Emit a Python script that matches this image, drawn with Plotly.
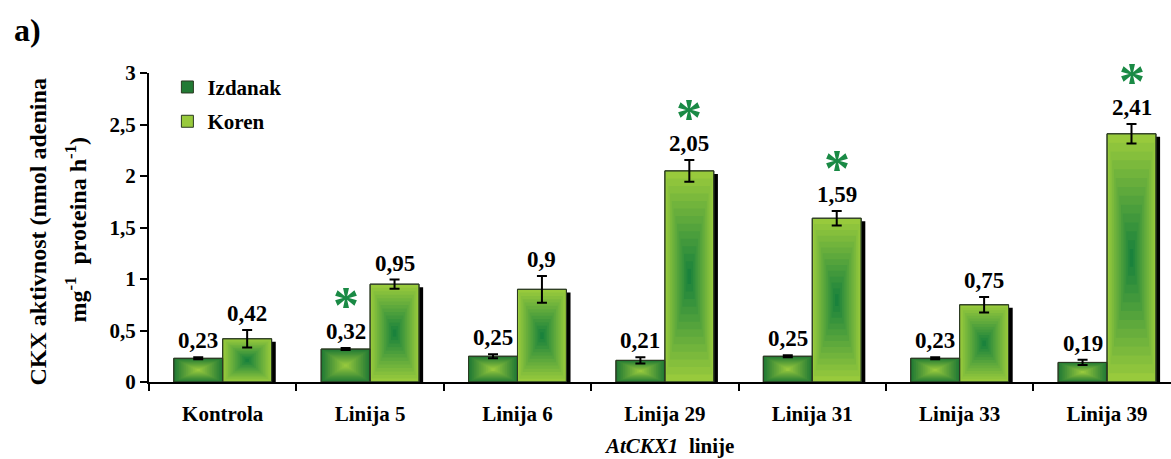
import plotly.graph_objects as go

# Data
categories = ["Kontrola", "Linija 5", "Linija 6", "Linija 29", "Linija 31", "Linija 33", "Linija 39"]
izdanak = [0.23, 0.32, 0.25, 0.21, 0.25, 0.23, 0.19]
izdanak_err = [0.01, 0.01, 0.02, 0.03, 0.01, 0.01, 0.025]
koren = [0.42, 0.95, 0.90, 2.05, 1.59, 0.75, 2.41]
koren_err = [0.085, 0.045, 0.13, 0.105, 0.07, 0.075, 0.095]
izdanak_sig = [False, True, False, False, False, False, False]
koren_sig = [False, False, False, True, True, False, True]
y_ticks = [0, 0.5, 1, 1.5, 2, 2.5, 3]

FONT = "Liberation Serif, Times New Roman, serif"
BAR_W = 0.332
N_LAYERS = 14


def lerp(c1, c2, t):
    return "rgb({},{},{})".format(*[round(a + (b - a) * t) for a, b in zip(c1, c2)])


def label(v):
    s = ("%.2f" % v).rstrip("0").rstrip(".")
    return s.replace(".", ",")


def bold_font(size, color="black"):
    return dict(family=FONT, size=size, color=color, weight="bold")


fig = go.Figure()

# drop shadow to the right of the Koren bars
fig.add_trace(go.Bar(
    x=categories, y=koren, base=[-0.03] * len(koren),
    offset=0.028, width=BAR_W,
    marker=dict(color="black", line=dict(width=0)),
    showlegend=False, hoverinfo="skip",
))


def gradient_bars(name, values, offset, edge, centre):
    """Rectangular 'from centre' gradient built from nested bars."""
    for k in range(N_LAYERS):
        f = 1 - k / N_LAYERS
        w = BAR_W * f
        fig.add_trace(go.Bar(
            x=categories,
            y=[v * f for v in values],
            base=[v * (1 - f) / 2 for v in values],
            offset=offset + (BAR_W - w) / 2,
            width=w,
            marker=dict(color=lerp(edge, centre, k / (N_LAYERS - 1)),
                        line=dict(width=1 if k == 0 else 0, color="#2b3a22")),
            name=name, legendgroup=name,
            showlegend=(k == 0),
            hoverinfo="skip",
        ))


gradient_bars("Izdanak", izdanak, -BAR_W, (34, 122, 52), (150, 200, 62))
gradient_bars("Koren", koren, 0.0, (152, 202, 60), (26, 130, 60))

# outlines and error bars drawn on top
for values, errs, off in ((izdanak, izdanak_err, -BAR_W), (koren, koren_err, 0.0)):
    fig.add_trace(go.Bar(
        x=categories, y=values, offset=off, width=BAR_W,
        marker=dict(color="rgba(0,0,0,0)", line=dict(color="#2b3a22", width=1)),
        error_y=dict(type="data", array=errs, visible=True, color="black",
                     thickness=2, width=5),
        showlegend=False, hoverinfo="skip",
    ))

annotations = []
for values, errs, sig, off in ((izdanak, izdanak_err, izdanak_sig, -BAR_W),
                               (koren, koren_err, koren_sig, 0.0)):
    for i, (v, e, s) in enumerate(zip(values, errs, sig)):
        xc = i + off + BAR_W / 2
        annotations.append(dict(
            x=xc, y=v + e, xref="x", yref="y", text=label(v),
            showarrow=False, yanchor="bottom", yshift=2,
            font=bold_font(23),
        ))
        if s:
            annotations.append(dict(
                x=xc, y=v + e, xref="x", yref="y", text="*",
                showarrow=False, yanchor="bottom", yshift=12,
                font=bold_font(52, "#1a8a45"),
            ))

# panel letter
annotations.append(dict(
    x=0, y=1, xref="paper", yref="paper", xshift=-122, yshift=43,
    text="a)", showarrow=False, xanchor="center", yanchor="middle",
    font=bold_font(32),
))
# y-axis title (two lines)
annotations.append(dict(
    x=0, y=0.5, xref="paper", yref="paper", xshift=-112, yshift=-5,
    text="CKX aktivnost (nmol adenina", textangle=-90, showarrow=False,
    xanchor="center", yanchor="middle",
    font=bold_font(24),
))
annotations.append(dict(
    x=0, y=0.5, xref="paper", yref="paper", xshift=-74, yshift=-2,
    text="mg<sup>-1</sup>  proteina h<sup>-1</sup>)", textangle=-90, showarrow=False,
    xanchor="center", yanchor="middle",
    font=bold_font(24),
))
# x-axis title
annotations.append(dict(
    x=0.5, y=0, xref="paper", yref="paper", xshift=9, yshift=-64,
    text="<i>AtCKX1</i>  linije", showarrow=False,
    xanchor="center", yanchor="middle",
    font=bold_font(21),
))

fig.update_layout(
    width=1171, height=459,
    margin=dict(l=149, r=0, t=73, b=77),
    barmode="overlay",
    plot_bgcolor="white", paper_bgcolor="white",
    separators=",.",
    font=dict(family=FONT, color="black"),
    showlegend=True,
    legend=dict(
        x=0.018, y=1.02, xanchor="left", yanchor="top",
        traceorder="grouped", tracegroupgap=4,
        font=bold_font(21),
        bgcolor="rgba(0,0,0,0)", itemclick=False,
    ),
    annotations=annotations,
    xaxis=dict(
        type="category", range=[-0.5, 6.434],
        showline=True, linecolor="black", linewidth=2,
        ticks="outside", tickson="boundaries", ticklen=7, tickwidth=2, tickcolor="black",
        tickfont=bold_font(21), ticklabelstandoff=12,
        showgrid=False, zeroline=False,
    ),
    yaxis=dict(
        range=[0, 3], tickvals=y_ticks,
        showline=True, linecolor="black", linewidth=2,
        ticks="outside", ticklen=7, tickwidth=2, tickcolor="black",
        tickfont=bold_font(21),
        showgrid=False, zeroline=False,
    ),
)

fig.write_html("out.html")
